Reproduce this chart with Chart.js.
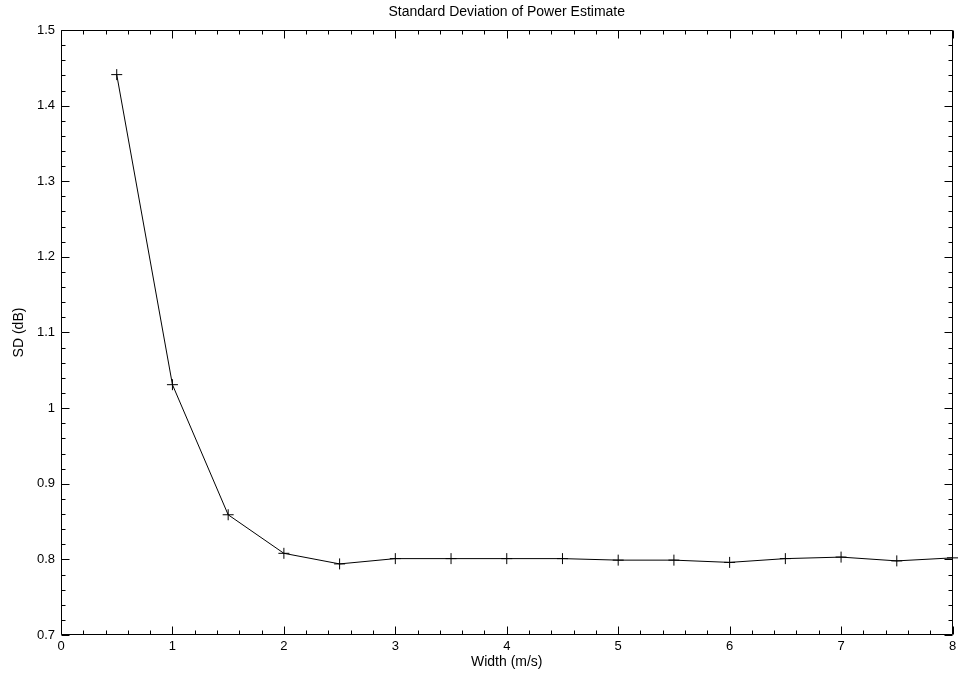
<!DOCTYPE html>
<html>
<head>
<meta charset="utf-8">
<title>Standard Deviation of Power Estimate</title>
<script src="https://cdn.jsdelivr.net/npm/chart.js@4/dist/chart.umd.min.js"></script>
<style>
  html, body { margin: 0; padding: 0; background: #fff; }
  canvas { display: block; }
</style>
</head>
<body>
<canvas id="Chart" width="959" height="681"></canvas>
<script>
// width values (m/s) and measured SD (dB)
const widths = [0.5, 1, 1.5, 2, 2.5, 3, 3.5, 4, 4.5, 5, 5.5, 6, 6.5, 7, 7.5, 8];
const sdValues = [1.441, 1.031, 0.859, 0.808, 0.794, 0.801, 0.801, 0.801, 0.801, 0.799, 0.799, 0.796, 0.801, 0.803, 0.798, 0.802];

// axis ticks
const xTicks = [0, 1, 2, 3, 4, 5, 6, 7, 8];
const yTicks = [0.7, 0.8, 0.9, 1.0, 1.1, 1.2, 1.3, 1.4, 1.5];
const xMinorDivs = 5;
const yMinorDivs = 5;

const chartTitle = 'Standard Deviation of Power Estimate';
const fontFamily = '"Liberation Sans", Arial, sans-serif';

// box around the plot with inward tick marks on all four sides,
// plus the title centred over the plot box
const boxTicks = {
    id: 'boxTicks',
    afterDatasetsDraw(chart) {
        const ctx = chart.ctx;
        const area = chart.chartArea;
        const xs = chart.scales.x;
        const ys = chart.scales.y;
        const major = 8, minor = 4;
        ctx.save();
        ctx.strokeStyle = '#000';
        ctx.lineWidth = 1;
        ctx.beginPath();
        const L = Math.round(area.left) + 0.5, R = Math.round(area.right) - 0.5;
        const T = Math.round(area.top) + 0.5, B = Math.round(area.bottom) - 0.5;
        ctx.rect(L, T, R - L, B - T);

        const xStep = (xTicks[1] - xTicks[0]) / xMinorDivs;
        for (let i = 0; i < xTicks.length; i++) {
            for (let j = 0; j < xMinorDivs; j++) {
                if (i === xTicks.length - 1 && j > 0) break;
                const px = Math.round(xs.getPixelForValue(xTicks[i] + j * xStep)) + 0.5;
                const len = j === 0 ? major : minor;
                ctx.moveTo(px, B); ctx.lineTo(px, B - len);
                ctx.moveTo(px, T); ctx.lineTo(px, T + len);
            }
        }
        const yStep = (yTicks[1] - yTicks[0]) / yMinorDivs;
        for (let i = 0; i < yTicks.length; i++) {
            for (let j = 0; j < yMinorDivs; j++) {
                if (i === yTicks.length - 1 && j > 0) break;
                const py = Math.round(ys.getPixelForValue(yTicks[i] + j * yStep)) + 0.5;
                const len = j === 0 ? major : minor;
                ctx.moveTo(L, py); ctx.lineTo(L + len, py);
                ctx.moveTo(R, py); ctx.lineTo(R - len, py);
            }
        }
        ctx.stroke();

        ctx.fillStyle = '#000';
        ctx.font = '14px ' + fontFamily;
        ctx.textAlign = 'center';
        ctx.textBaseline = 'middle';
        ctx.fillText(chartTitle, (area.left + area.right) / 2, 12);
        ctx.restore();
    }
};

const chart = new Chart(document.getElementById('Chart'), {
    type: 'line',
    data: {
        labels: widths,
        datasets: [{
            label: 'SD',
            data: widths.map((w, i) => ({ x: w, y: sdValues[i] })),
            borderColor: '#000',
            backgroundColor: '#000',
            borderWidth: 1,
            pointStyle: 'cross',
            pointRadius: 5.5,
            pointBorderWidth: 1,
            pointBorderColor: '#000',
            tension: 0,
            clip: false
        }]
    },
    options: {
        responsive: false,
        animation: false,
        events: [],
        layout: { padding: { left: 0, right: 4, top: 30, bottom: 0 } },
        plugins: {
            legend: { display: false },
            tooltip: { enabled: false },
            title: { display: false }
        },
        scales: {
            x: {
                type: 'linear',
                min: 0,
                max: 8,
                afterBuildTicks: s => { s.ticks = xTicks.map(v => ({ value: v })); },
                afterFit: s => { s.height = 46; s.paddingLeft = 0; s.paddingRight = 0; },
                grid: { display: false, drawTicks: false },
                border: { display: false },
                ticks: {
                    color: '#000',
                    padding: 4,
                    maxRotation: 0,
                    autoSkip: false,
                    font: { family: fontFamily, size: 13 },
                    callback: v => String(v)
                },
                title: {
                    display: true,
                    text: 'Width (m/s)',
                    color: '#000',
                    font: { family: fontFamily, size: 14 },
                    padding: { top: 0, bottom: 10 }
                }
            },
            y: {
                min: 0.7,
                max: 1.5,
                afterBuildTicks: s => { s.ticks = yTicks.map(v => ({ value: v })); },
                afterFit: s => { s.width = 61; s.paddingTop = 0; s.paddingBottom = 0; },
                grid: { display: false, drawTicks: false },
                border: { display: false },
                ticks: {
                    color: '#000',
                    padding: 6,
                    autoSkip: false,
                    font: { family: fontFamily, size: 13 },
                    callback: v => String(Math.round(v * 10) / 10)
                },
                title: {
                    display: true,
                    text: 'SD (dB)',
                    color: '#000',
                    font: { family: fontFamily, size: 14 },
                    padding: { top: 11, bottom: 0 }
                }
            }
        }
    },
    plugins: [boxTicks]
});
</script>
</body>
</html>
